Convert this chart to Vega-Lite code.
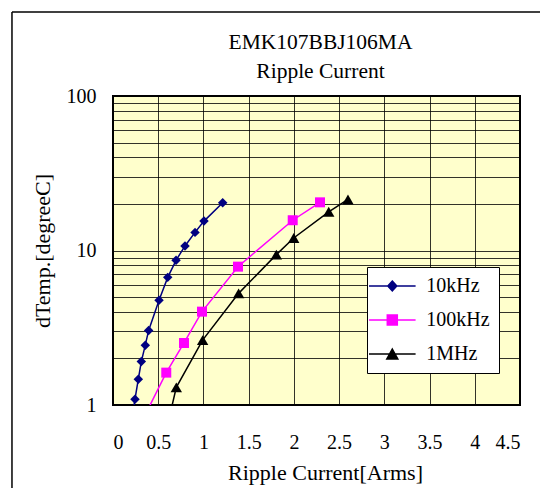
{
  "$schema": "https://vega.github.io/schema/vega-lite/v6.json",
  "width": 407,
  "height": 309,
  "autosize": {"type": "none"},
  "padding": {"left": 113, "top": 96, "right": 20, "bottom": 83},
  "background": "#ffffff",
  "title": {
    "text": ["EMK107BBJ106MA", "Ripple Current"],
    "font": "Liberation Serif",
    "fontSize": 21.5,
    "fontWeight": "normal",
    "color": "#000000",
    "lineHeight": 29,
    "anchor": "middle",
    "dx": 4,
    "offset": -71
  },
  "data": {
    "values": [
      {"series": "10kHz", "current": 0.2, "dtemp": 0.75},
      {"series": "10kHz", "current": 0.243, "dtemp": 1.09},
      {"series": "10kHz", "current": 0.28, "dtemp": 1.47},
      {"series": "10kHz", "current": 0.313, "dtemp": 1.91},
      {"series": "10kHz", "current": 0.357, "dtemp": 2.44},
      {"series": "10kHz", "current": 0.394, "dtemp": 3.04},
      {"series": "10kHz", "current": 0.509, "dtemp": 4.76},
      {"series": "10kHz", "current": 0.605, "dtemp": 6.7},
      {"series": "10kHz", "current": 0.697, "dtemp": 8.64},
      {"series": "10kHz", "current": 0.796, "dtemp": 10.7},
      {"series": "10kHz", "current": 0.907, "dtemp": 13.1},
      {"series": "10kHz", "current": 1.006, "dtemp": 15.5},
      {"series": "10kHz", "current": 1.213, "dtemp": 20.4},
      {"series": "100kHz", "current": 0.35, "dtemp": 0.85},
      {"series": "100kHz", "current": 0.589, "dtemp": 1.62},
      {"series": "100kHz", "current": 0.785, "dtemp": 2.52},
      {"series": "100kHz", "current": 0.984, "dtemp": 4.02},
      {"series": "100kHz", "current": 1.382, "dtemp": 7.86},
      {"series": "100kHz", "current": 1.987, "dtemp": 15.7},
      {"series": "100kHz", "current": 2.289, "dtemp": 20.5},
      {"series": "1MHz", "current": 0.6, "dtemp": 0.73},
      {"series": "1MHz", "current": 0.7, "dtemp": 1.3},
      {"series": "1MHz", "current": 0.991, "dtemp": 2.63},
      {"series": "1MHz", "current": 1.389, "dtemp": 5.28},
      {"series": "1MHz", "current": 1.806, "dtemp": 9.4},
      {"series": "1MHz", "current": 1.998, "dtemp": 12.05},
      {"series": "1MHz", "current": 2.385, "dtemp": 17.8},
      {"series": "1MHz", "current": 2.598, "dtemp": 21.4}
    ]
  },
  "layer": [
    {
      "mark": {"type": "line", "clip": true, "strokeWidth": 1.5},
      "encoding": {
        "x": {
          "field": "current",
          "type": "quantitative",
          "scale": {"domain": [0, 4.5], "nice": false, "zero": false},
          "axis": {
            "title": "Ripple Current[Arms]",
            "values": [0, 0.5, 1, 1.5, 2, 2.5, 3, 3.5, 4, 4.5],
            "format": "~g",
            "titleX": 212,
            "titlePadding": 10
          }
        },
        "y": {
          "field": "dtemp",
          "type": "quantitative",
          "scale": {"type": "log", "domain": [1, 100], "nice": false},
          "axis": {
            "title": "dTemp.[degreeC]",
            "values": [1, 2, 3, 4, 5, 6, 7, 8, 9, 10, 20, 30, 40, 50, 60, 70, 80, 90, 100],
            "format": "d",
            "labelExpr": "datum.value == 1 || datum.value == 10 || datum.value == 100 ? datum.label : ''",
            "titlePadding": 12
          }
        },
        "color": {
          "field": "series",
          "type": "nominal",
          "scale": {"domain": ["10kHz", "100kHz", "1MHz"], "range": ["#000080", "#ff00ff", "#000000"]},
          "legend": {
            "title": null,
            "orient": "none",
            "legendX": 254,
            "legendY": 171,
            "padding": 9,
            "rowPadding": 14,
            "labelOffset": 24,
            "symbolOffset": 6.3,
            "symbolSize": 100,
            "symbolStrokeWidth": 1.5,
            "fillColor": "#ffffff",
            "strokeColor": "#000000",
            "encode": {
              "symbols": {
                "update": {
                  "shape": {"signal": "datum.value === '10kHz' ? 'M-5.72,0M-4.66,0H4.66M0,-1L0.9,0L0,1L-0.9,0Z' : datum.value === '100kHz' ? 'M-5.72,0M-4.66,0H4.66M-1,-1H1V1H-1Z' : 'M-5.72,0M-4.66,0H4.66M0,-1L1.1,1H-1.1Z'"},
                  "fill": {"scale": "color", "field": "value"},
                  "stroke": {"scale": "color", "field": "value"},
                  "strokeWidth": {"value": 1.5},
                  "size": {"value": 100}
                }
              }
            }
          }
        }
      }
    },
    {
      "transform": [{"filter": {"field": "series", "equal": "10kHz"}}],
      "mark": {"type": "point", "clip": true, "filled": true, "opacity": 1, "shape": "diamond", "size": 90},
      "encoding": {
        "x": {"field": "current", "type": "quantitative"},
        "y": {"field": "dtemp", "type": "quantitative"},
        "color": {"field": "series", "type": "nominal"}
      }
    },
    {
      "transform": [{"filter": {"field": "series", "equal": "100kHz"}}],
      "mark": {"type": "point", "clip": true, "filled": true, "opacity": 1, "shape": "square", "size": 100},
      "encoding": {
        "x": {"field": "current", "type": "quantitative"},
        "y": {"field": "dtemp", "type": "quantitative"},
        "color": {"field": "series", "type": "nominal"}
      }
    },
    {
      "transform": [{"filter": {"field": "series", "equal": "1MHz"}}],
      "mark": {"type": "point", "clip": true, "filled": true, "opacity": 1, "shape": "triangle-up", "size": 130},
      "encoding": {
        "x": {"field": "current", "type": "quantitative"},
        "y": {"field": "dtemp", "type": "quantitative"},
        "color": {"field": "series", "type": "nominal"}
      }
    },
    {
      "data": {"values": [{"frame": "left"}]},
      "mark": {"type": "rule", "clip": false, "color": "#000000", "strokeWidth": 1.5},
      "encoding": {
        "x": {"datum": -1.117, "type": "quantitative"},
        "y": {"datum": 350, "type": "quantitative"},
        "y2": {"datum": 0.2}
      }
    },
    {
      "data": {"values": [{"frame": "top"}]},
      "mark": {"type": "rule", "clip": false, "color": "#000000", "strokeWidth": 1.5},
      "encoding": {
        "x": {"datum": -1.117, "type": "quantitative"},
        "x2": {"datum": 5.2},
        "y": {"datum": 350, "type": "quantitative"}
      }
    }
  ],
  "config": {
    "view": {"fill": "#ffffcc", "stroke": "#000000", "strokeWidth": 2},
    "axis": {
      "domain": false,
      "ticks": false,
      "tickSize": 0,
      "grid": true,
      "gridColor": "#000000",
      "gridOpacity": 0.8,
      "gridWidth": 1,
      "labelFont": "Liberation Serif",
      "labelFontSize": 20,
      "labelColor": "#000000",
      "titleFont": "Liberation Serif",
      "titleFontSize": 22,
      "titleFontWeight": "normal",
      "titleColor": "#000000"
    },
    "axisX": {"labelPadding": 27},
    "axisY": {"labelPadding": 17},
    "legend": {
      "labelFont": "Liberation Serif",
      "labelFontSize": 20,
      "labelColor": "#000000"
    }
  }
}
